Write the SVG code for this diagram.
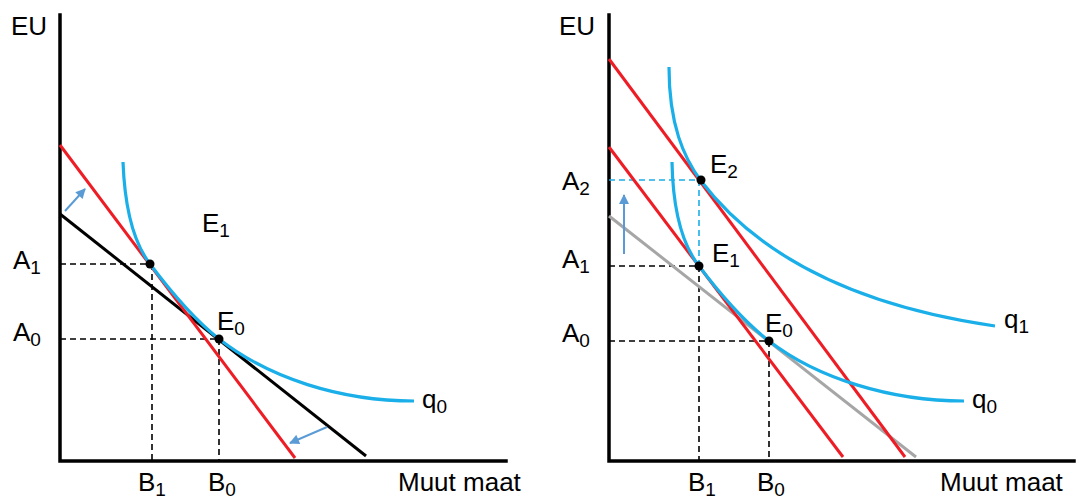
<svg xmlns="http://www.w3.org/2000/svg" width="1078" height="499" viewBox="0 0 1078 499">
<defs>
<style>
.axis{stroke:#000;stroke-width:3.5;fill:none;stroke-linecap:square}
.red{stroke:#ee1c25;stroke-width:3;fill:none}
.blk{stroke:#000;stroke-width:3;fill:none}
.gry{stroke:#a6a6a6;stroke-width:3;fill:none}
.crv{stroke:#1aafe8;stroke-width:3.2;fill:none}
.dash{stroke:#000;stroke-width:1.6;stroke-dasharray:6 4;fill:none}
.bdash{stroke:#1aafe8;stroke-width:1.6;stroke-dasharray:6 4;fill:none}
.arr{stroke:#5b9bd5;stroke-width:2;fill:none}
.dot{fill:#000}
text{font-family:"Liberation Sans",Arial,Helvetica,sans-serif;font-size:26px;fill:#000}
.sub{font-size:19px}
</style>
<marker id="ah" viewBox="0 0 10 10" refX="9" refY="5" markerUnits="userSpaceOnUse" markerWidth="12" markerHeight="10" orient="auto">
<path d="M0,0 L10,5 L0,10 z" fill="#5b9bd5"/>
</marker>
</defs>

<!-- LEFT PANEL -->
<g id="left-axes">
<path class="axis" d="M60,15 L60,461 L506,461"/>
</g>
<g id="left-guides">
<path class="dash" d="M60,264 L150,264 M152,264 L152,461"/>
<path class="dash" d="M60,339 L219,339 M219,339 L219,461"/>
</g>
<g id="left-lines">
<path class="blk" d="M60,214 L366,456"/>
<path class="red" d="M60,145 L295,458"/>
</g>
<g id="left-curve-q0">
<path class="crv" d="M123,162 C125,215 137,247 150,264 C165,284 191,317 219,339 C269,378 340,401 414,401"/>
</g>
<g id="left-arrows">
<line class="arr" x1="65" y1="211" x2="85" y2="189" marker-end="url(#ah)"/>
<line class="arr" x1="327" y1="427" x2="290" y2="443" marker-end="url(#ah)"/>
</g>
<g id="left-points">
<circle class="dot" cx="150" cy="264" r="4.5"/>
<circle class="dot" cx="219" cy="339" r="4.5"/>
</g>
<g id="left-labels">
<text x="11" y="35">EU</text>
<text x="13" y="269">A<tspan class="sub" dy="5">1</tspan></text>
<text x="13" y="341">A<tspan class="sub" dy="5">0</tspan></text>
<text x="138" y="491">B<tspan class="sub" dy="5">1</tspan></text>
<text x="208" y="491">B<tspan class="sub" dy="5">0</tspan></text>
<text x="202" y="232">E<tspan class="sub" dy="5">1</tspan></text>
<text x="217" y="330">E<tspan class="sub" dy="5">0</tspan></text>
<text x="422" y="408">q<tspan class="sub" dy="5">0</tspan></text>
<text x="398" y="491">Muut maat</text>
</g>

<!-- RIGHT PANEL -->
<g id="right-axes">
<path class="axis" d="M609,15 L609,461 L1074,461"/>
</g>
<g id="right-guides">
<path class="bdash" d="M609,180 L701,180 M699,180 L699,266"/>
<path class="dash" d="M609,266 L699,266 M699,266 L699,461"/>
<path class="dash" d="M609,341 L769,341 M769,341 L769,461"/>
</g>
<g id="right-lines">
<path class="gry" d="M609,216 L916,457"/>
<path class="red" d="M609,147 L843,457"/>
<path class="red" d="M609,59 L905,457"/>
</g>
<g id="right-curve-q0">
<path class="crv" d="M672,162 C673,215 685,248 699,266 C714,286 741,319 769,341 C817,378 890,401 964,401"/>
</g>
<g id="right-curve-q1">
<path class="crv" d="M669,67 C669,125 684,158 701,181 C757,254 850,305 995,326"/>
</g>
<g id="right-arrows">
<line class="arr" x1="624" y1="254" x2="624" y2="195" marker-end="url(#ah)"/>
</g>
<g id="right-points">
<circle class="dot" cx="701" cy="180" r="4.5"/>
<circle class="dot" cx="699" cy="266" r="4.5"/>
<circle class="dot" cx="769" cy="341" r="4.5"/>
</g>
<g id="right-labels">
<text x="559" y="35">EU</text>
<text x="562" y="190">A<tspan class="sub" dy="5">2</tspan></text>
<text x="562" y="268">A<tspan class="sub" dy="5">1</tspan></text>
<text x="562" y="342">A<tspan class="sub" dy="5">0</tspan></text>
<text x="688" y="491">B<tspan class="sub" dy="5">1</tspan></text>
<text x="757" y="491">B<tspan class="sub" dy="5">0</tspan></text>
<text x="710" y="173">E<tspan class="sub" dy="5">2</tspan></text>
<text x="712" y="262">E<tspan class="sub" dy="5">1</tspan></text>
<text x="765" y="332">E<tspan class="sub" dy="5">0</tspan></text>
<text x="1004" y="328">q<tspan class="sub" dy="5">1</tspan></text>
<text x="972" y="408">q<tspan class="sub" dy="5">0</tspan></text>
<text x="940" y="491">Muut maat</text>
</g>
</svg>
